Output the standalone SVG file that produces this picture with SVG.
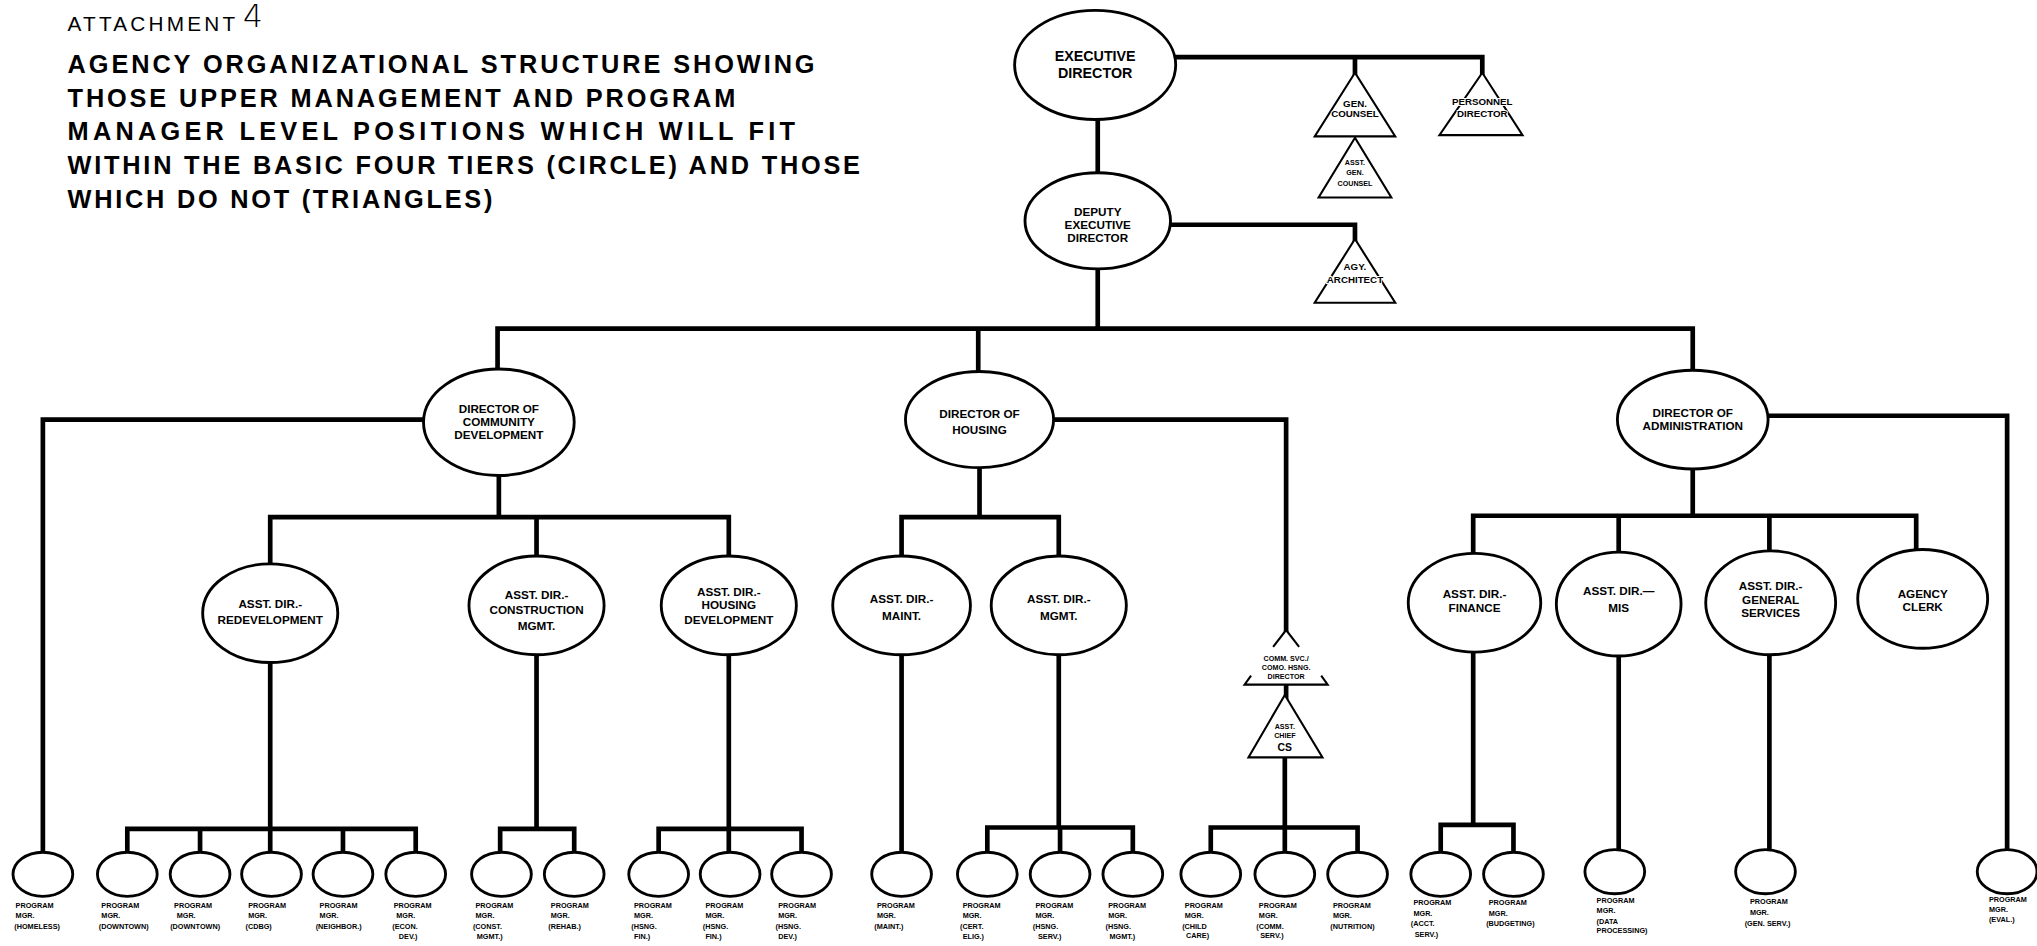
<svg xmlns="http://www.w3.org/2000/svg" width="2037" height="946" viewBox="0 0 2037 946">
  <style>
    .ln { fill:none; stroke:#000; stroke-width:3.6; stroke-linecap:square; stroke-linejoin:miter; }
    .el { fill:#fff; stroke:#000; stroke-width:2.2; }
    .tri { fill:#fff; stroke:#000; stroke-width:1.6; stroke-linejoin:miter; }
    .t { font-family:"Liberation Sans", Arial, sans-serif; font-weight:bold; text-anchor:middle; fill:#000; }
    .n11 { font-size:11px; }
    .n9 { font-size:9px; }
    .tt { font-size:7.5px; paint-order:stroke; stroke:#fff; stroke-width:1.4px; }
    .ts { font-size:5.5px; paint-order:stroke; stroke:#fff; stroke-width:1.2px; }
    .pm { font-family:"Liberation Sans", Arial, sans-serif; font-weight:bold; font-size:5.6px; fill:#000; }
    .hd { font-family:"Liberation Sans", Arial, sans-serif; font-weight:bold; font-size:19.5px; fill:#000; }
  </style>
  <rect width="2037" height="946" fill="#fff"/>
  <!-- drawing laid out on a 1568-wide grid, scaled up to the page -->
  <g transform="scale(1.29911)">
    <g id="heading">
      <text x="52" y="24" font-family="Liberation Sans, Arial, sans-serif" font-size="16" textLength="129" lengthAdjust="spacing">ATTACHMENT</text>
      <text x="187" y="21" font-family="DejaVu Sans, sans-serif" font-weight="200" font-size="24">4</text>
      <text class="hd" x="52" y="56" textLength="575" lengthAdjust="spacing">AGENCY ORGANIZATIONAL STRUCTURE SHOWING</text>
      <text class="hd" x="52" y="82" textLength="514" lengthAdjust="spacing">THOSE UPPER MANAGEMENT AND PROGRAM</text>
      <text class="hd" x="52" y="108" textLength="560" lengthAdjust="spacing">MANAGER LEVEL POSITIONS WHICH WILL FIT</text>
      <text class="hd" x="52" y="134" textLength="610" lengthAdjust="spacing">WITHIN THE BASIC FOUR TIERS (CIRCLE) AND THOSE</text>
      <text class="hd" x="52" y="160" textLength="327" lengthAdjust="spacing">WHICH DO NOT (TRIANGLES)</text>
    </g>

    <g id="connectors">
      <path class="ln" d="M905,44 H1141 V58 M1043,44 V58"/>
      <path class="ln" d="M845,93 V133"/>
      <path class="ln" d="M901,173 H1043 V186"/>
      <path class="ln" d="M845,208 V253 M383,253 H1303 M383,253 V284 M753,253 V287 M1303,253 V285"/>
      <path class="ln" d="M326,323 H33 V656"/>
      <path class="ln" d="M384,366 V398 M208,398 H561 M208,398 V434 M413,398 V428 M561,398 V428"/>
      <path class="ln" d="M208,510 V638 M98,638 H320 M98,638 V656 M154,638 V656 M208,638 V656 M264,638 V656 M320,638 V656"/>
      <path class="ln" d="M413,504 V638 M385,638 H442 M385,638 V656 M442,638 V656"/>
      <path class="ln" d="M561,504 V638 M507,638 H617 M507,638 V656 M561,638 V656 M617,638 V656"/>
      <path class="ln" d="M811,323 H990 V487"/>
      <path class="ln" d="M754,360 V398 M694,398 H815 M694,398 V428 M815,398 V428"/>
      <path class="ln" d="M694,504 V656"/>
      <path class="ln" d="M815,504 V637 M760,637 H872 M760,637 V656 M816,637 V656 M872,637 V656"/>
      <path class="ln" d="M990,527 V537"/>
      <path class="ln" d="M989,583 V637 M932,637 H1045 M932,637 V656 M989,637 V656 M1045,637 V656"/>
      <path class="ln" d="M1361,320 H1545 V655"/>
      <path class="ln" d="M1303,361 V397 M1134,397 H1475 M1134,397 V426 M1246,397 V425 M1362,397 V424 M1475,397 V423"/>
      <path class="ln" d="M1134,502 V635 M1109,635 H1165 M1109,635 V656 M1165,635 V656"/>
      <path class="ln" d="M1246,505 V655"/>
      <path class="ln" d="M1362,504 V655"/>
    </g>

    <!-- top tier -->
    <g id="executive-director">
      <ellipse class="el" cx="843" cy="50" rx="62" ry="42"/>
      <text class="t n11" x="843" y="47">EXECUTIVE</text>
      <text class="t n11" x="843" y="60">DIRECTOR</text>
    </g>
    <g id="gen-counsel">
      <polygon class="tri" points="1043,56 1012,105 1074,105"/>
      <text class="t tt" x="1043" y="82">GEN.</text>
      <text class="t tt" x="1043" y="90">COUNSEL</text>
    </g>
    <g id="asst-gen-counsel">
      <polygon class="tri" points="1043,106 1015,152 1071,152"/>
      <text class="t ts" x="1043" y="127">ASST.</text>
      <text class="t ts" x="1043" y="135">GEN.</text>
      <text class="t ts" x="1043" y="143">COUNSEL</text>
    </g>
    <g id="personnel-director">
      <polygon class="tri" points="1141,56 1108,104 1172,104"/>
      <text class="t tt" x="1141" y="81">PERSONNEL</text>
      <text class="t tt" x="1141" y="90">DIRECTOR</text>
    </g>
    <g id="deputy-executive-director">
      <ellipse class="el" cx="845" cy="170" rx="56" ry="37"/>
      <text class="t n9" x="845" y="166">DEPUTY</text>
      <text class="t n9" x="845" y="176">EXECUTIVE</text>
      <text class="t n9" x="845" y="186">DIRECTOR</text>
    </g>
    <g id="agy-architect">
      <polygon class="tri" points="1043,184 1012,233 1074,233"/>
      <text class="t tt" x="1043" y="208">AGY.</text>
      <text class="t tt" x="1043" y="218">ARCHITECT</text>
    </g>

    <!-- directors -->
    <g id="dir-community-development">
      <ellipse class="el" cx="384" cy="325" rx="58" ry="41"/>
      <text class="t n9" x="384" y="318">DIRECTOR OF</text>
      <text class="t n9" x="384" y="328">COMMUNITY</text>
      <text class="t n9" x="384" y="338">DEVELOPMENT</text>
    </g>
    <g id="dir-housing">
      <ellipse class="el" cx="754" cy="323" rx="57" ry="37"/>
      <text class="t n9" x="754" y="322">DIRECTOR OF</text>
      <text class="t n9" x="754" y="334">HOUSING</text>
    </g>
    <g id="dir-administration">
      <ellipse class="el" cx="1303" cy="323" rx="58" ry="38"/>
      <text class="t n9" x="1303" y="321">DIRECTOR OF</text>
      <text class="t n9" x="1303" y="331">ADMINISTRATION</text>
    </g>

    <!-- assistant directors -->
    <g id="asst-redevelopment">
      <ellipse class="el" cx="208" cy="472" rx="52" ry="38"/>
      <text class="t n9" x="208" y="468">ASST. DIR.-</text>
      <text class="t n9" x="208" y="480">REDEVELOPMENT</text>
    </g>
    <g id="asst-construction">
      <ellipse class="el" cx="413" cy="466" rx="52" ry="38"/>
      <text class="t n9" x="413" y="461">ASST. DIR.-</text>
      <text class="t n9" x="413" y="473">CONSTRUCTION</text>
      <text class="t n9" x="413" y="485">MGMT.</text>
    </g>
    <g id="asst-housing-development">
      <ellipse class="el" cx="561" cy="466" rx="52" ry="38"/>
      <text class="t n9" x="561" y="459">ASST. DIR.-</text>
      <text class="t n9" x="561" y="469">HOUSING</text>
      <text class="t n9" x="561" y="480">DEVELOPMENT</text>
    </g>
    <g id="asst-maint">
      <ellipse class="el" cx="694" cy="466" rx="53" ry="38"/>
      <text class="t n9" x="694" y="464">ASST. DIR.-</text>
      <text class="t n9" x="694" y="477">MAINT.</text>
    </g>
    <g id="asst-mgmt">
      <ellipse class="el" cx="815" cy="466" rx="52" ry="38"/>
      <text class="t n9" x="815" y="464">ASST. DIR.-</text>
      <text class="t n9" x="815" y="477">MGMT.</text>
    </g>
    <g id="comm-svc-director">
      <!-- sides broken where the title runs through -->
      <path class="tri" fill="none" d="M980,498 L990,485 L1000,498 M963,520 L958,527 H1022 L1017,520"/>
      <text class="t" font-size="5.5" x="990" y="509">COMM. SVC./</text>
      <text class="t" font-size="5.5" x="990" y="516">COMO. HSNG.</text>
      <text class="t" font-size="5.5" x="990" y="523">DIRECTOR</text>
    </g>
    <g id="asst-chief-cs">
      <polygon class="tri" points="989,535 961,583 1018,583"/>
      <text class="t ts" x="989" y="561">ASST.</text>
      <text class="t ts" x="989" y="568">CHIEF</text>
      <text class="t" font-size="8" x="989" y="578">CS</text>
    </g>
    <g id="asst-finance">
      <ellipse class="el" cx="1135" cy="464" rx="51" ry="38"/>
      <text class="t n9" x="1135" y="460">ASST. DIR.-</text>
      <text class="t n9" x="1135" y="471">FINANCE</text>
    </g>
    <g id="asst-mis">
      <ellipse class="el" cx="1246" cy="465" rx="48" ry="40"/>
      <text class="t n9" x="1246" y="458">ASST. DIR.—</text>
      <text class="t n9" x="1246" y="471">MIS</text>
    </g>
    <g id="asst-general-services">
      <ellipse class="el" cx="1363" cy="464" rx="50" ry="40"/>
      <text class="t n9" x="1363" y="454">ASST. DIR.-</text>
      <text class="t n9" x="1363" y="465">GENERAL</text>
      <text class="t n9" x="1363" y="475">SERVICES</text>
    </g>
    <g id="agency-clerk">
      <ellipse class="el" cx="1480" cy="461" rx="50" ry="38"/>
      <text class="t n9" x="1480" y="460">AGENCY</text>
      <text class="t n9" x="1480" y="470">CLERK</text>
    </g>

    <!-- program managers -->
    <g id="pm-homeless"><ellipse class="el" cx="33" cy="673" rx="23" ry="17"/>
      <text class="pm" x="12" y="699">PROGRAM</text><text class="pm" x="12" y="707">MGR.</text><text class="pm" x="11" y="715">(HOMELESS)</text></g>
    <g id="pm-downtown-1"><ellipse class="el" cx="98" cy="673" rx="23" ry="17"/>
      <text class="pm" x="78" y="699">PROGRAM</text><text class="pm" x="78" y="707">MGR.</text><text class="pm" x="76" y="715">(DOWNTOWN)</text></g>
    <g id="pm-downtown-2"><ellipse class="el" cx="154" cy="673" rx="23" ry="17"/>
      <text class="pm" x="134" y="699">PROGRAM</text><text class="pm" x="136" y="707">MGR.</text><text class="pm" x="131" y="715">(DOWNTOWN)</text></g>
    <g id="pm-cdbg"><ellipse class="el" cx="209" cy="673" rx="23" ry="17"/>
      <text class="pm" x="191" y="699">PROGRAM</text><text class="pm" x="191" y="707">MGR.</text><text class="pm" x="189" y="715">(CDBG)</text></g>
    <g id="pm-neighbor"><ellipse class="el" cx="264" cy="673" rx="23" ry="17"/>
      <text class="pm" x="246" y="699">PROGRAM</text><text class="pm" x="246" y="707">MGR.</text><text class="pm" x="243" y="715">(NEIGHBOR.)</text></g>
    <g id="pm-econ-dev"><ellipse class="el" cx="320" cy="673" rx="23" ry="17"/>
      <text class="pm" x="303" y="699">PROGRAM</text><text class="pm" x="305" y="707">MGR.</text><text class="pm" x="302" y="715">(ECON.</text><text class="pm" x="307" y="723">DEV.)</text></g>
    <g id="pm-const-mgmt"><ellipse class="el" cx="386" cy="673" rx="23" ry="17"/>
      <text class="pm" x="366" y="699">PROGRAM</text><text class="pm" x="366" y="707">MGR.</text><text class="pm" x="364" y="715">(CONST.</text><text class="pm" x="367" y="723">MGMT.)</text></g>
    <g id="pm-rehab"><ellipse class="el" cx="442" cy="673" rx="23" ry="17"/>
      <text class="pm" x="424" y="699">PROGRAM</text><text class="pm" x="424" y="707">MGR.</text><text class="pm" x="422" y="715">(REHAB.)</text></g>
    <g id="pm-hsng-fin-1"><ellipse class="el" cx="507" cy="673" rx="23" ry="17"/>
      <text class="pm" x="488" y="699">PROGRAM</text><text class="pm" x="488" y="707">MGR.</text><text class="pm" x="486" y="715">(HSNG.</text><text class="pm" x="488" y="723">FIN.)</text></g>
    <g id="pm-hsng-fin-2"><ellipse class="el" cx="562" cy="673" rx="23" ry="17"/>
      <text class="pm" x="543" y="699">PROGRAM</text><text class="pm" x="543" y="707">MGR.</text><text class="pm" x="541" y="715">(HSNG.</text><text class="pm" x="543" y="723">FIN.)</text></g>
    <g id="pm-hsng-dev"><ellipse class="el" cx="617" cy="673" rx="23" ry="17"/>
      <text class="pm" x="599" y="699">PROGRAM</text><text class="pm" x="599" y="707">MGR.</text><text class="pm" x="597" y="715">(HSNG.</text><text class="pm" x="599" y="723">DEV.)</text></g>
    <g id="pm-maint"><ellipse class="el" cx="694" cy="673" rx="23" ry="17"/>
      <text class="pm" x="675" y="699">PROGRAM</text><text class="pm" x="675" y="707">MGR.</text><text class="pm" x="673" y="715">(MAINT.)</text></g>
    <g id="pm-cert-elig"><ellipse class="el" cx="760" cy="673" rx="23" ry="17"/>
      <text class="pm" x="741" y="699">PROGRAM</text><text class="pm" x="741" y="707">MGR.</text><text class="pm" x="739" y="715">(CERT.</text><text class="pm" x="741" y="723">ELIG.)</text></g>
    <g id="pm-hsng-serv"><ellipse class="el" cx="816" cy="673" rx="23" ry="17"/>
      <text class="pm" x="797" y="699">PROGRAM</text><text class="pm" x="797" y="707">MGR.</text><text class="pm" x="795" y="715">(HSNG.</text><text class="pm" x="799" y="723">SERV.)</text></g>
    <g id="pm-hsng-mgmt"><ellipse class="el" cx="872" cy="673" rx="23" ry="17"/>
      <text class="pm" x="853" y="699">PROGRAM</text><text class="pm" x="853" y="707">MGR.</text><text class="pm" x="851" y="715">(HSNG.</text><text class="pm" x="854" y="723">MGMT.)</text></g>
    <g id="pm-child-care"><ellipse class="el" cx="932" cy="673" rx="23" ry="17"/>
      <text class="pm" x="912" y="699">PROGRAM</text><text class="pm" x="912" y="707">MGR.</text><text class="pm" x="910" y="715">(CHILD</text><text class="pm" x="913" y="722">CARE)</text></g>
    <g id="pm-comm-serv"><ellipse class="el" cx="989" cy="673" rx="23" ry="17"/>
      <text class="pm" x="969" y="699">PROGRAM</text><text class="pm" x="969" y="707">MGR.</text><text class="pm" x="967" y="715">(COMM.</text><text class="pm" x="970" y="722">SERV.)</text></g>
    <g id="pm-nutrition"><ellipse class="el" cx="1045" cy="673" rx="23" ry="17"/>
      <text class="pm" x="1026" y="699">PROGRAM</text><text class="pm" x="1026" y="707">MGR.</text><text class="pm" x="1024" y="715">(NUTRITION)</text></g>
    <g id="pm-acct-serv"><ellipse class="el" cx="1109" cy="673" rx="23" ry="17"/>
      <text class="pm" x="1088" y="697">PROGRAM</text><text class="pm" x="1088" y="705">MGR.</text><text class="pm" x="1086" y="713">(ACCT.</text><text class="pm" x="1089" y="721">SERV.)</text></g>
    <g id="pm-budgeting"><ellipse class="el" cx="1165" cy="673" rx="23" ry="17"/>
      <text class="pm" x="1146" y="697">PROGRAM</text><text class="pm" x="1146" y="705">MGR.</text><text class="pm" x="1144" y="713">(BUDGETING)</text></g>
    <g id="pm-data-processing"><ellipse class="el" cx="1243" cy="671" rx="23" ry="17"/>
      <text class="pm" x="1229" y="695">PROGRAM</text><text class="pm" x="1229" y="703">MGR.</text><text class="pm" x="1229" y="711">(DATA</text><text class="pm" x="1229" y="718">PROCESSING)</text></g>
    <g id="pm-gen-serv"><ellipse class="el" cx="1359" cy="671" rx="23" ry="17"/>
      <text class="pm" x="1347" y="696">PROGRAM</text><text class="pm" x="1347" y="704">MGR.</text><text class="pm" x="1343" y="713">(GEN. SERV.)</text></g>
    <g id="pm-eval"><ellipse class="el" cx="1545" cy="671" rx="23" ry="17"/>
      <text class="pm" x="1531" y="694">PROGRAM</text><text class="pm" x="1531" y="702">MGR.</text><text class="pm" x="1531" y="710">(EVAL.)</text></g>
  </g>
</svg>
